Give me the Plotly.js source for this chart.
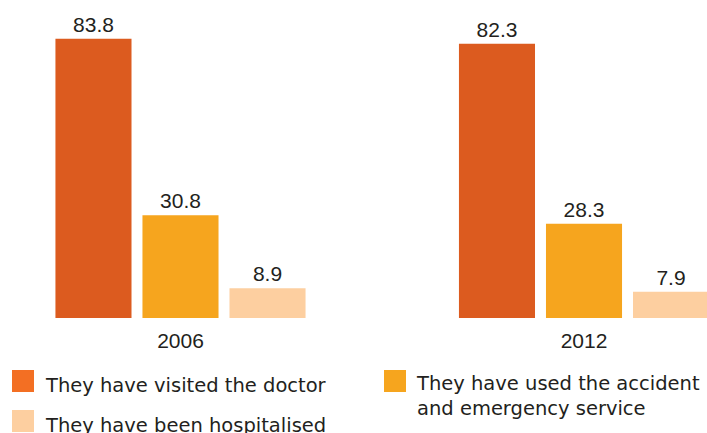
<!DOCTYPE html>
<html>
<head>
<meta charset="utf-8">
<script src="https://cdn.plot.ly/plotly-3.0.1.min.js"></script>
<style>html,body{margin:0;padding:0;background:#fff;}#chart{width:707px;height:433px;}</style>
</head>
<body>
<div id="chart"></div>
<script>
// ---- data ----
var years = ["2006", "2012"];
var seriesNames = [
  "They have visited the doctor",
  "They have used the accident<br>and emergency service",
  "They have been hospitalised"
];
var doctorValues = [83.8, 82.3];
var emergencyValues = [30.8, 28.3];
var hospitalValues = [8.9, 7.9];

// ---- styles ----
var barColors = ["#DC5B1F", "#F6A51E", "#FDCFA0"];
var legendColors = ["#F36F23", "#F6A51E", "#FDCFA0"];
var textColor = "#231F20";
var labelFont = {family: "Liberation Sans, Arial, sans-serif", size: 21, color: textColor};
var legendFont = {family: "DejaVu Sans, sans-serif", size: 19.5, color: textColor};

var seriesValues = [doctorValues, emergencyValues, hospitalValues];
var traces = seriesValues.map(function (vals, i) {
  return {
    type: "bar",
    x: years,
    y: vals,
    name: seriesNames[i],
    marker: {color: barColors[i]},
    text: vals.map(function (v) { return v.toFixed(1); }),
    textposition: "outside",
    textfont: labelFont,
    constraintext: "none",
    cliponaxis: false,
    hoverinfo: "none",
    showlegend: false
  };
});

// custom legend layout (pixel positions converted to paper coords)
var W = 707, plotTop = 18, plotBottom = 318, plotH = plotBottom - plotTop;
function px(x) { return x / W; }
function py(y) { return (plotBottom - y) / plotH; }
var legendItems = [
  {box: [12, 370, 34, 392], textX: 43, textY: 385},
  {box: [384, 370, 406, 392], textX: 414, textY: 396},
  {box: [12, 410, 34, 432], textX: 43, textY: 425}
];
var shapes = [], annotations = [];
legendItems.forEach(function (it, i) {
  shapes.push({
    type: "rect", xref: "paper", yref: "paper",
    x0: px(it.box[0]), x1: px(it.box[2]), y0: py(it.box[1]), y1: py(it.box[3]),
    fillcolor: legendColors[i], line: {width: 0}
  });
  annotations.push({
    xref: "paper", yref: "paper", x: px(it.textX), y: py(it.textY),
    xanchor: "left", yanchor: "middle", align: "left", showarrow: false,
    text: seriesNames[i], font: legendFont
  });
});

var layout = {
  width: 707, height: 433,
  margin: {l: 0, r: 0, t: plotTop, b: 433 - plotBottom, pad: 0},
  paper_bgcolor: "#ffffff", plot_bgcolor: "#ffffff",
  barmode: "group",
  bargap: 0.353,
  bargroupgap: 0.126,
  showlegend: false,
  uniformtext: {mode: false},
  xaxis: {
    type: "category",
    range: [-0.4473, 1.3048],
    showline: false, showgrid: false, zeroline: false, ticks: "",
    tickfont: labelFont,
    ticklabelstandoff: 8,
    fixedrange: true
  },
  yaxis: {
    range: [0, 90],
    visible: false, showgrid: false, zeroline: false,
    fixedrange: true
  },
  shapes: shapes,
  annotations: annotations
};

Plotly.newPlot("chart", traces, layout, {displayModeBar: false, staticPlot: true});
</script>
</body>
</html>
